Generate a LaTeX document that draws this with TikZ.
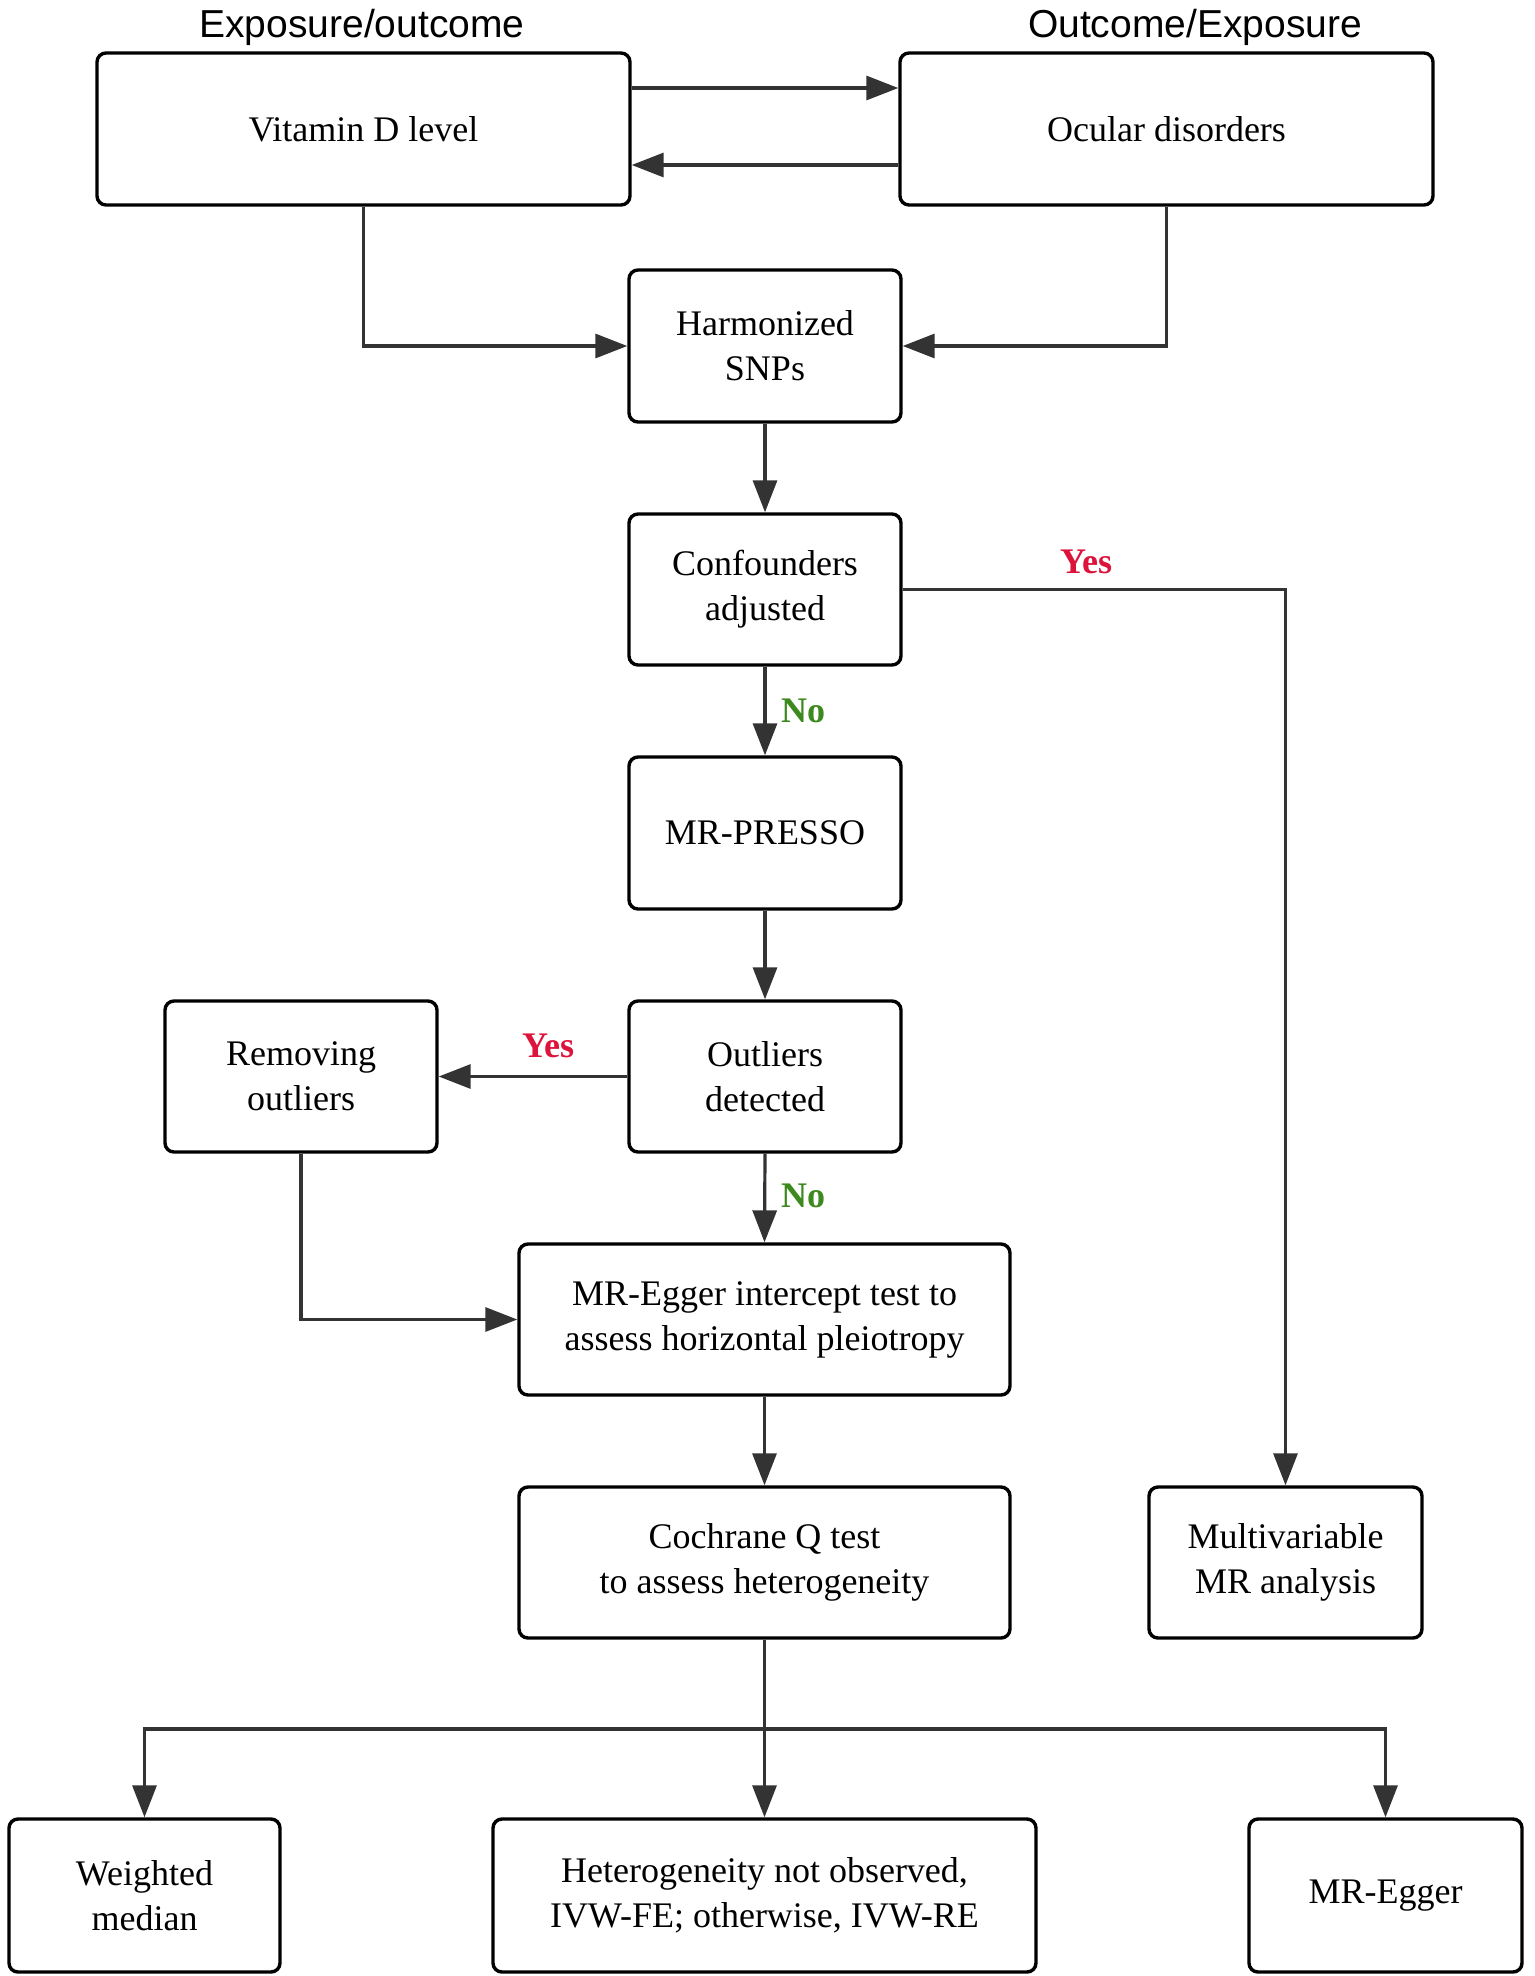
\documentclass[tikz,border=0pt]{standalone}
\usepackage{fontspec}
\setmainfont{Liberation Serif}
\newfontfamily\titlefont{Liberation Sans}
\usetikzlibrary{arrows.meta}
\definecolor{linegray}{HTML}{333333}
\definecolor{yesred}{HTML}{DC143C}
\definecolor{nogreen}{HTML}{3C8A1E}
\tikzset{
  box/.style={draw=black, line width=1.7pt, rounded corners=4.5pt, fill=white,
    align=center, inner sep=0pt, font=\fontsize{18}{22.5}\selectfont},
  arr/.style={draw=linegray, line width=1.6pt, -{Triangle[length=16pt,width=12pt]}},
  plain/.style={draw=linegray, line width=1.6pt},
  yeslab/.style={text=yesred, font=\bfseries\fontsize{18}{20}\selectfont},
  nolab/.style={text=nogreen, font=\bfseries\fontsize{18}{20}\selectfont},
  ttl/.style={font=\titlefont\fontsize{19.5}{22}\selectfont}
}
\begin{document}
\begin{tikzpicture}[x=0.5pt,y=-0.5pt]
\useasboundingbox (0,0) rectangle (1535,1976);
% titles
\node[ttl] (t1) at (362,27) {Exposure/outcome};
\node[ttl] (t2) at (1195,27) {Outcome/Exposure};
% boxes
\node[box, minimum width=266.5pt, minimum height=76pt] (vit) at (363.5,129) {Vitamin D level};
\node[box, minimum width=266.5pt, minimum height=76pt] (ocu) at (1166.5,129) {Ocular disorders};
\node[box, minimum width=136pt, minimum height=76pt] (harm) at (765,346) {Harmonized\\SNPs};
\node[box, minimum width=136pt, minimum height=75.5pt] (conf) at (765,589.5) {Confounders\\adjusted};
\node[box, minimum width=136pt, minimum height=76pt] (presso) at (765,833) {MR-PRESSO};
\node[box, minimum width=136pt, minimum height=75.5pt] (outl) at (765,1076.5) {Outliers\\detected};
\node[box, minimum width=136pt, minimum height=75.5pt] (remov) at (301,1076.5) {Removing\\outliers};
\node[box, minimum width=245.5pt, minimum height=75.5pt] (egger) at (764.5,1319.5) {MR-Egger intercept test to\\assess horizontal pleiotropy};
\node[box, minimum width=245.5pt, minimum height=75.5pt] (coch) at (764.5,1562.5) {Cochrane Q test\\to assess heterogeneity};
\node[box, minimum width=136.5pt, minimum height=75.5pt] (multi) at (1285.5,1562.5) {Multivariable\\MR analysis};
\node[box, minimum width=135.5pt, minimum height=76.5pt] (wm) at (144.5,1895.5) {Weighted\\median};
\node[box, minimum width=271.5pt, minimum height=76.5pt] (het) at (764.5,1895.5) {Heterogeneity not observed,\\IVW-FE; otherwise, IVW-RE};
\node[box, minimum width=136.5pt, minimum height=76.5pt] (mre) at (1385.5,1895.5) {MR-Egger};
% connectors
\draw[arr] ([yshift=20.5pt]vit.east) -- ([yshift=20.5pt]ocu.west);
\draw[arr] ([yshift=-18pt]ocu.west) -- ([yshift=-18pt]vit.east);
\draw[arr] (vit.south) |- (harm.west);
\draw[arr] (ocu.south) |- (harm.east);
\draw[arr] (harm.south) -- (conf.north);
\draw[arr] (conf.east) -| (multi.north);
\draw[arr] (conf.south) -- (presso.north);
\draw[arr] (presso.south) -- (outl.north);
\draw[arr] (outl.west) -- (remov.east);
\draw[arr] (outl.south) -- (egger.north);
\draw[arr] (remov.south) |- (egger.west);
\draw[arr] (egger.south) -- (coch.north);
\coordinate (split) at (764.5,1729);
\draw[plain] (coch.south) -- (split);
\draw[arr] (split) -| (wm.north);
\draw[arr] (split) -| (mre.north);
\draw[arr] (split) -- (het.north);
% labels
\node[yeslab] (y1) at (1086,562) {Yes};
\node[nolab] (n1) at (803,711) {No};
\node[yeslab] (y2) at (548,1046) {Yes};
\node[nolab] (n2) at (803,1196) {No};
\end{tikzpicture}
\end{document}
